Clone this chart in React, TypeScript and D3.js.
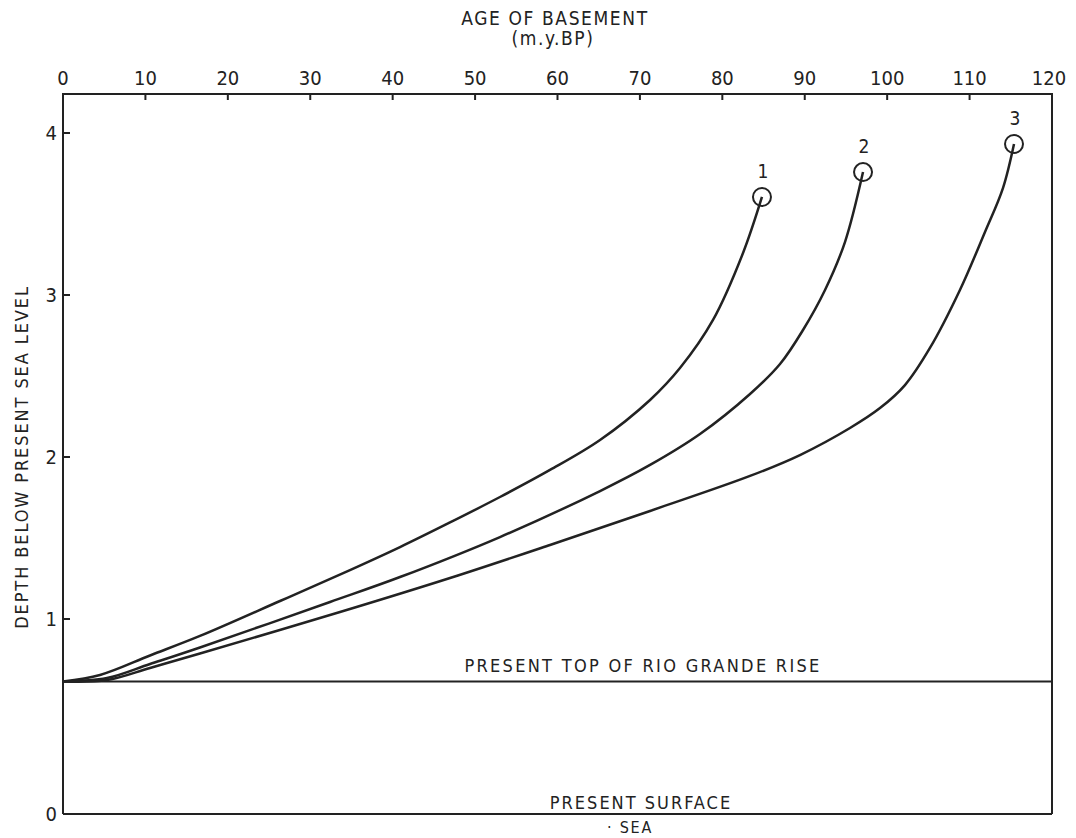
import React from "react";
import * as d3 from "d3";

type Pt = { age: number; depth: number };

const xTicks = [0, 10, 20, 30, 40, 50, 60, 70, 80, 90, 100, 110, 120];
const yTicks = [0, 1, 2, 3, 4];
const riseDepth = 0.68;

// subsidence paths, age (m.y.BP) vs depth (km)
const curve1: Pt[] = [
  { age: 0, depth: 0.68 },
  { age: 4.49, depth: 0.713 },
  { age: 10.56, depth: 0.813 },
  { age: 16.62, depth: 0.913 },
  { age: 26.33, depth: 1.111 },
  { age: 34.82, depth: 1.302 },
  { age: 40.89, depth: 1.444 },
  { age: 46.96, depth: 1.596 },
  { age: 53.02, depth: 1.753 },
  { age: 59.09, depth: 1.92 },
  { age: 65.16, depth: 2.105 },
  { age: 71.23, depth: 2.352 },
  { age: 74.86, depth: 2.549 },
  { age: 78.87, depth: 2.846 },
  { age: 82.51, depth: 3.259 },
  { age: 84.81, depth: 3.605 },
];

const curve2: Pt[] = [
  { age: 0, depth: 0.68 },
  { age: 5.34, depth: 0.697 },
  { age: 10.56, depth: 0.769 },
  { age: 16.62, depth: 0.854 },
  { age: 32.4, depth: 1.105 },
  { age: 40.89, depth: 1.259 },
  { age: 53.02, depth: 1.506 },
  { age: 65.16, depth: 1.79 },
  { age: 71.23, depth: 1.951 },
  { age: 77.29, depth: 2.142 },
  { age: 83.36, depth: 2.389 },
  { age: 87.0, depth: 2.574 },
  { age: 89.79, depth: 2.784 },
  { age: 92.46, depth: 3.031 },
  { age: 94.88, depth: 3.327 },
  { age: 97.07, depth: 3.759 },
];

const curve3: Pt[] = [
  { age: 0, depth: 0.68 },
  { age: 5.34, depth: 0.687 },
  { age: 10.56, depth: 0.749 },
  { age: 16.62, depth: 0.823 },
  { age: 33.61, depth: 1.043 },
  { age: 46.96, depth: 1.253 },
  { age: 59.09, depth: 1.457 },
  { age: 71.23, depth: 1.667 },
  { age: 83.36, depth: 1.883 },
  { age: 89.42, depth: 2.012 },
  { age: 95.49, depth: 2.179 },
  { age: 99.13, depth: 2.302 },
  { age: 102.16, depth: 2.444 },
  { age: 105.19, depth: 2.673 },
  { age: 108.83, depth: 3.031 },
  { age: 111.87, depth: 3.389 },
  { age: 114.05, depth: 3.66 },
  { age: 115.39, depth: 3.932 },
];

const curves = [
  { label: "1", pts: curve1 },
  { label: "2", pts: curve2 },
  { label: "3", pts: curve3 },
];

const FONT = "'Liberation Sans Narrow', 'DejaVu Sans Condensed', 'Roboto Condensed', 'Liberation Sans', sans-serif";
const INK = "#222";

export default function App() {
  const width = 1076;
  const height = 838;
  const left = 63;
  const right = 1052;
  const top = 94;

  const x = d3.scaleLinear().domain([0, 120]).range([left, right]);
  // the original plate's depth axis is not evenly spaced below 1 km
  const y = d3.scaleLinear().domain([0, 1, 4]).range([814, 619, 133]);

  const line = d3
    .line<Pt>()
    .x((d) => x(d.age))
    .y((d) => y(d.depth))
    .curve(d3.curveCatmullRom.alpha(0.5));

  const bottom = y(0);

  return (
    <svg
      width={width}
      height={height}
      style={{ position: "absolute", left: 0, top: 0, background: "#fff" }}
      fontFamily={FONT}
      fill={INK}
    >
      <text x={555} y={25} fontSize={19} textAnchor="middle" letterSpacing={1.6}>
        AGE OF BASEMENT
      </text>
      <text x={553} y={45} fontSize={19} textAnchor="middle" letterSpacing={1.6}>
        (m.y.BP)
      </text>

      {/* frame */}
      <path
        d={`M${left},${bottom}V${top}H${right}V${bottom}`}
        fill="none"
        stroke={INK}
        strokeWidth={2}
      />
      <line x1={left} x2={right} y1={bottom} y2={bottom} stroke={INK} strokeWidth={2} />

      {/* top axis */}
      {xTicks.map((t) => (
        <g key={t}>
          {t > 0 && t < 120 && (
            <line x1={x(t)} x2={x(t)} y1={top} y2={top + 6} stroke={INK} strokeWidth={2} />
          )}
          <text x={t === 120 ? x(t) - 3 : x(t)} y={85} fontSize={20} textAnchor="middle">
            {t}
          </text>
        </g>
      ))}

      {/* left axis */}
      {yTicks.map((t) => (
        <g key={t}>
          {t > 0 && <line x1={left} x2={left + 7} y1={y(t)} y2={y(t)} stroke={INK} strokeWidth={2} />}
          <text x={left - 6} y={y(t) + 7} fontSize={20} textAnchor="end">
            {t}
          </text>
        </g>
      ))}
      <text
        transform={`translate(28,${y(2.0)}) rotate(-90)`}
        fontSize={18}
        textAnchor="middle"
        letterSpacing={1.9}
      >
        DEPTH BELOW PRESENT SEA LEVEL
      </text>

      {/* reference levels */}
      <line
        x1={left}
        x2={right}
        y1={y(riseDepth)}
        y2={y(riseDepth)}
        stroke={INK}
        strokeWidth={2}
      />
      <text x={643} y={y(riseDepth) - 9} fontSize={18} textAnchor="middle" letterSpacing={2.3}>
        PRESENT TOP OF RIO GRANDE RISE
      </text>
      <text x={641} y={bottom - 5} fontSize={18} textAnchor="middle" letterSpacing={2.0}>
        PRESENT SURFACE
      </text>
      <text x={630} y={bottom + 19} fontSize={16} textAnchor="middle" letterSpacing={1.8}>
        · SEA
      </text>

      {/* curves */}
      {curves.map((c) => {
        const end = c.pts[c.pts.length - 1];
        return (
          <g key={c.label}>
            <path d={line(c.pts) || ""} fill="none" stroke={INK} strokeWidth={2.5} />
            <circle cx={x(end.age)} cy={y(end.depth)} r={9} fill="none" stroke={INK} strokeWidth={2} />
            <text x={x(end.age) + 1} y={y(end.depth) - 19} fontSize={19} textAnchor="middle">
              {c.label}
            </text>
          </g>
        );
      })}
    </svg>
  );
}
